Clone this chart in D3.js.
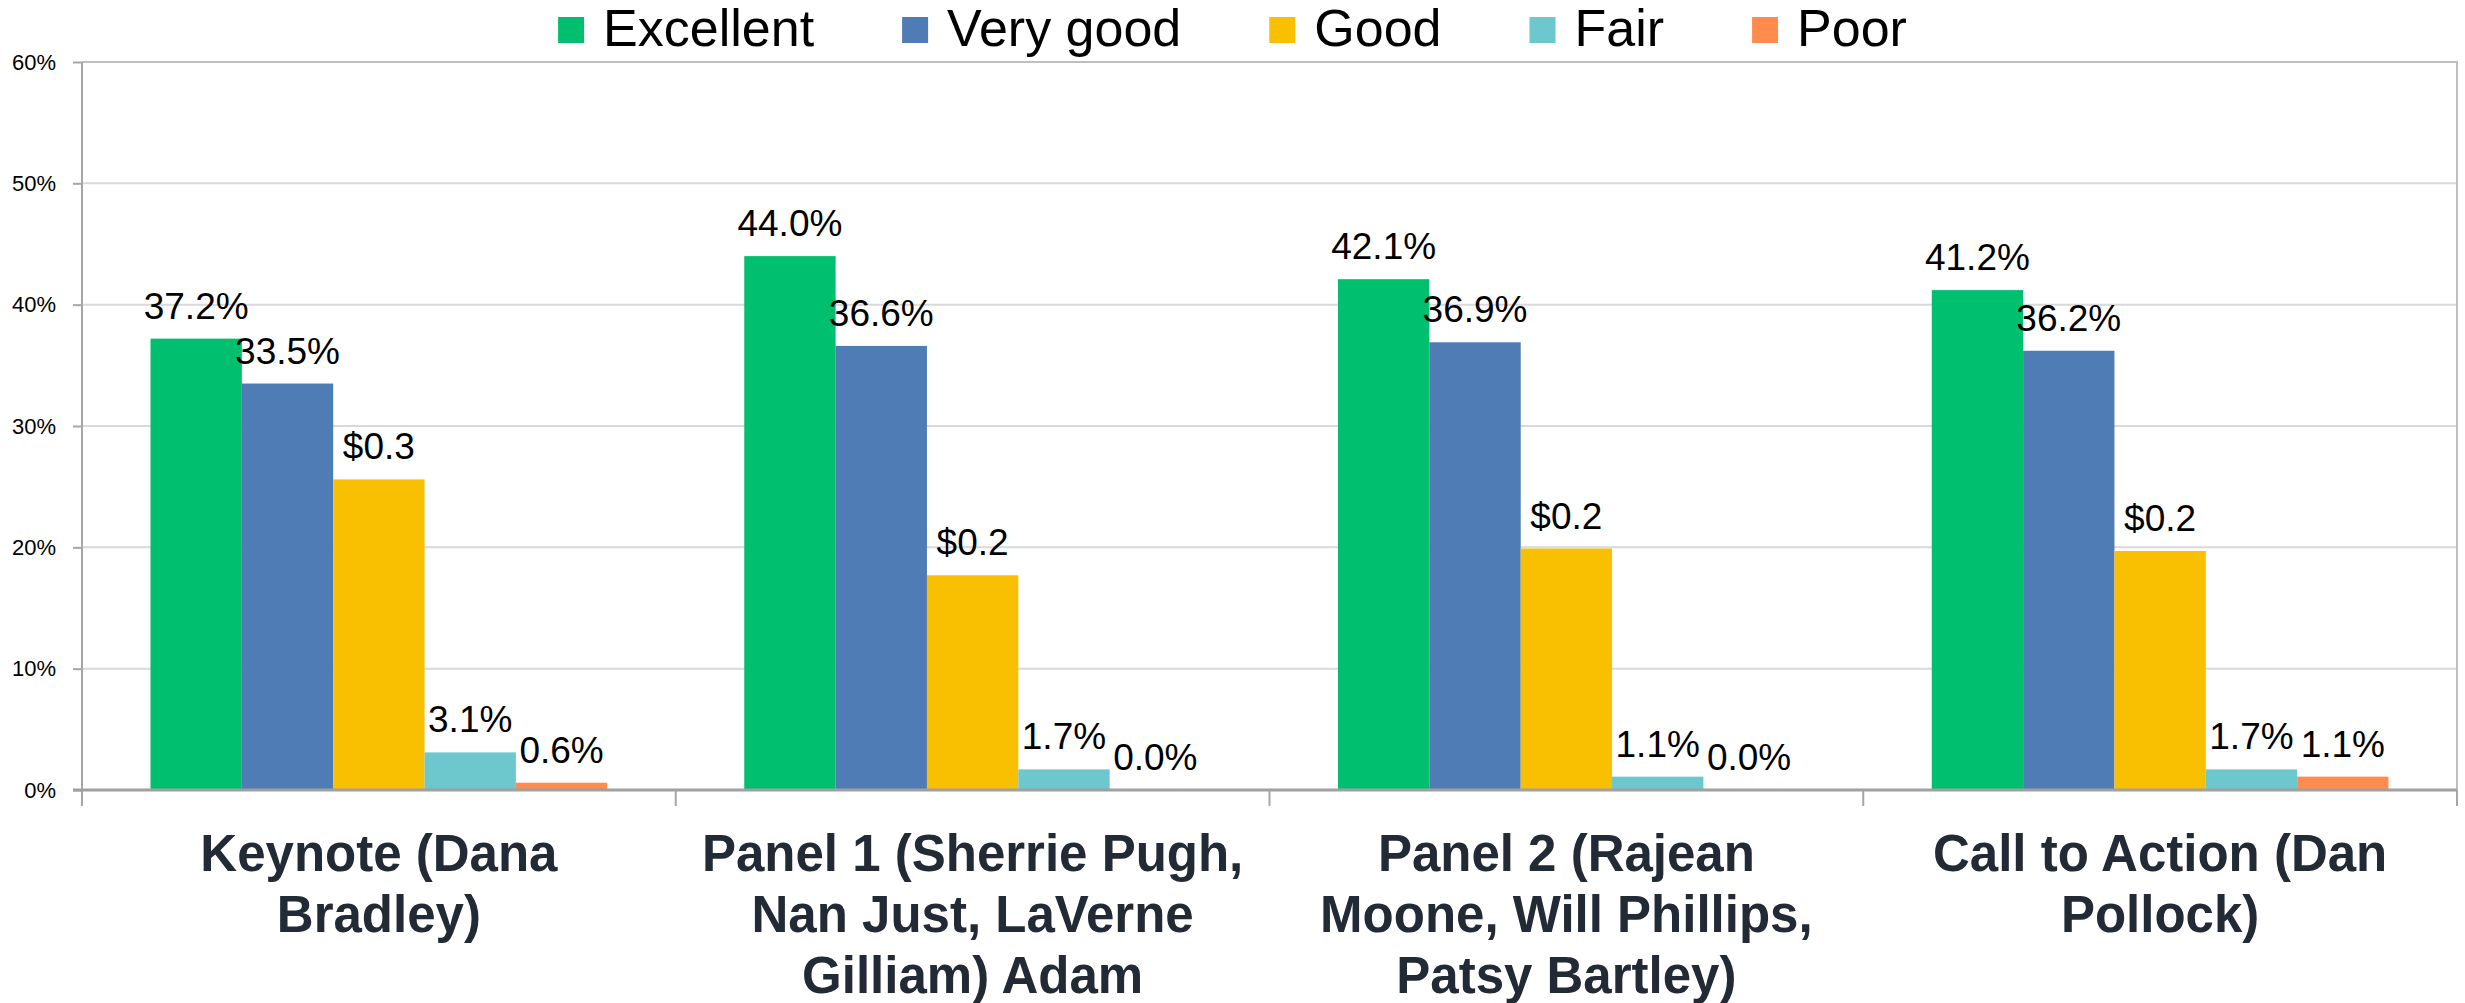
<!DOCTYPE html>
<html>
<head>
  <meta charset="utf-8">
  <title>Session ratings</title>
  <script src="https://d3js.org/d3.v7.min.js"></script>
</head>
<style>
  body {
    margin: 0;
    background: #fff;
    font-family: "Liberation Sans", Arial, sans-serif;
  }
  .y-axis text {
    font-size: 22px;
    fill: #000;
  }
  .y-axis .domain {
    display: none;
  }
  .y-axis .tick line {
    stroke: #a6a6a6;
    stroke-width: 2;
  }
  .grid line {
    stroke: #d9d9d9;
    stroke-width: 2;
  }
  .cat-label {
    font-size: 51px;
    font-weight: bold;
    fill: #222a35;
  }
  .val-label {
    font-size: 37px;
    fill: #000;
  }
  .legend text {
    font-size: 52px;
    fill: #000;
  }
</style>
<body>
  <svg id="chart"></svg>
  <script>
    // chart data
    const categories = [
      "Keynote (Dana Bradley)",
      "Panel 1 (Sherrie Pugh, Nan Just, LaVerne Gilliam) Adam",
      "Panel 2 (Rajean Moone, Will Phillips, Patsy Bartley)",
      "Call to Action (Dan Pollock)"
    ];
    const seriesNames = ["Excellent", "Very good", "Good", "Fair", "Poor"];
    const excellent = [37.2, 44.0, 42.1, 41.2];
    const veryGood = [33.5, 36.6, 36.9, 36.2];
    const good = [25.6, 17.7, 19.9, 19.7];
    const fair = [3.1, 1.7, 1.1, 1.7];
    const poor = [0.6, 0.0, 0.0, 1.1];
    // the "Good" labels in the original show odd currency text
    const goodLabels = ["$0.3", "$0.2", "$0.2", "$0.2"];
    const yTicks = [0, 10, 20, 30, 40, 50, 60];
    const colors = ["#00bf6f", "#4f7cb4", "#f8c000", "#6cc8cc", "#ff8b4f"];

    const seriesValues = [excellent, veryGood, good, fair, poor];

    const W = 2465, H = 1003;
    const plot = { left: 82, right: 2457, top: 62, bottom: 790 };

    const svg = d3.select("#chart")
      .attr("width", W)
      .attr("height", H);

    const x0 = d3.scaleBand()
      .domain(categories)
      .range([plot.left, plot.right])
      .paddingInner(0)
      .paddingOuter(0);

    // excel gap width 150% -> 0.75 bar each side
    const x1 = d3.scaleBand()
      .domain(seriesNames)
      .range([0, x0.bandwidth()])
      .paddingInner(0)
      .paddingOuter(0.75);

    const y = d3.scaleLinear()
      .domain([0, 60])
      .range([plot.bottom, plot.top]);

    const color = d3.scaleOrdinal().domain(seriesNames).range(colors);

    // gridlines
    svg.append("g")
      .attr("class", "grid")
      .selectAll("line")
      .data(yTicks.filter(t => t > 0 && t < 60))
      .enter().append("line")
      .attr("x1", plot.left)
      .attr("x2", plot.right)
      .attr("y1", d => y(d))
      .attr("y2", d => y(d));

    // plot border top + right
    svg.append("path")
      .attr("d", `M${plot.left},${y(60)}H${plot.right}V${plot.bottom}`)
      .attr("fill", "none")
      .attr("stroke", "#bfbfbf")
      .attr("stroke-width", 2);

    // bars
    const rows = categories.map((c, i) => ({
      cat: c,
      vals: seriesNames.map((s, j) => ({ key: s, value: seriesValues[j][i], idx: i }))
    }));

    const groups = svg.selectAll(".bar-group")
      .data(rows)
      .enter().append("g")
      .attr("class", "bar-group")
      .attr("transform", d => `translate(${x0(d.cat)},0)`);

    groups.selectAll("rect")
      .data(d => d.vals)
      .enter().append("rect")
      .attr("x", d => x1(d.key))
      .attr("y", d => y(d.value))
      .attr("width", x1.bandwidth())
      .attr("height", d => y(0) - y(d.value))
      .attr("fill", d => color(d.key));

    groups.selectAll(".val-label")
      .data(d => d.vals)
      .enter().append("text")
      .attr("class", "val-label")
      .attr("x", d => x1(d.key) + x1.bandwidth() / 2)
      .attr("y", d => y(d.value) - 20)
      .attr("text-anchor", "middle")
      .text(d => d.key === "Good" ? goodLabels[d.idx] : d.value.toFixed(1) + "%");

    // y axis
    const yAxis = d3.axisLeft(y)
      .tickValues(yTicks)
      .tickFormat(d => d + "%")
      .tickSize(9)
      .tickPadding(17);
    svg.append("g")
      .attr("class", "y-axis")
      .attr("transform", `translate(${plot.left},0)`)
      .call(yAxis);

    svg.append("line")
      .attr("x1", plot.left).attr("x2", plot.left)
      .attr("y1", plot.top).attr("y2", plot.bottom + 16)
      .attr("stroke", "#a6a6a6")
      .attr("stroke-width", 2);

    // baseline
    svg.append("line")
      .attr("x1", plot.left - 9).attr("x2", plot.right)
      .attr("y1", y(0)).attr("y2", y(0))
      .attr("stroke", "#a0a0a0")
      .attr("stroke-width", 3);

    // category separators
    const bounds = categories.map(c => x0(c)).concat([plot.right]);
    svg.selectAll(".sep")
      .data(bounds.slice(1))
      .enter().append("line")
      .attr("class", "sep")
      .attr("x1", d => d).attr("x2", d => d)
      .attr("y1", y(0)).attr("y2", y(0) + 16)
      .attr("stroke", "#a6a6a6")
      .attr("stroke-width", 2);

    // category labels, wrapped like excel does
    const maxLine = 560;
    categories.forEach(c => {
      const t = svg.append("text")
        .attr("class", "cat-label")
        .attr("text-anchor", "middle")
        .attr("x", x0(c) + x0.bandwidth() / 2)
        .attr("y", 871);
      const words = c.split(" ");
      let line = [];
      let lineNo = 0;
      let tspan = t.append("tspan").attr("x", x0(c) + x0.bandwidth() / 2).attr("dy", 0);
      words.forEach(w => {
        line.push(w);
        tspan.text(line.join(" "));
        if (tspan.node().getComputedTextLength() > maxLine && line.length > 1) {
          line.pop();
          tspan.text(line.join(" "));
          line = [w];
          lineNo++;
          tspan = t.append("tspan")
            .attr("x", x0(c) + x0.bandwidth() / 2)
            .attr("dy", 61)
            .text(w);
        }
      });
    });

    // legend, centred on the page
    const legend = svg.append("g").attr("class", "legend");
    const items = legend.selectAll("g")
      .data(seriesNames)
      .enter().append("g");
    items.append("rect")
      .attr("width", 26)
      .attr("height", 26)
      .attr("y", 17)
      .attr("fill", d => color(d));
    items.append("text")
      .attr("x", 45)
      .attr("y", 46)
      .text(d => d);
    let pos = 0;
    const offs = [];
    items.each(function() {
      offs.push(pos);
      const tw = d3.select(this).select("text").node().getComputedTextLength();
      pos += 45 + tw + 88;
    });
    const total = pos - 88;
    const start = (W - total) / 2;
    items.attr("transform", (d, i) => `translate(${start + offs[i]},0)`);
  </script>
</body>
</html>
